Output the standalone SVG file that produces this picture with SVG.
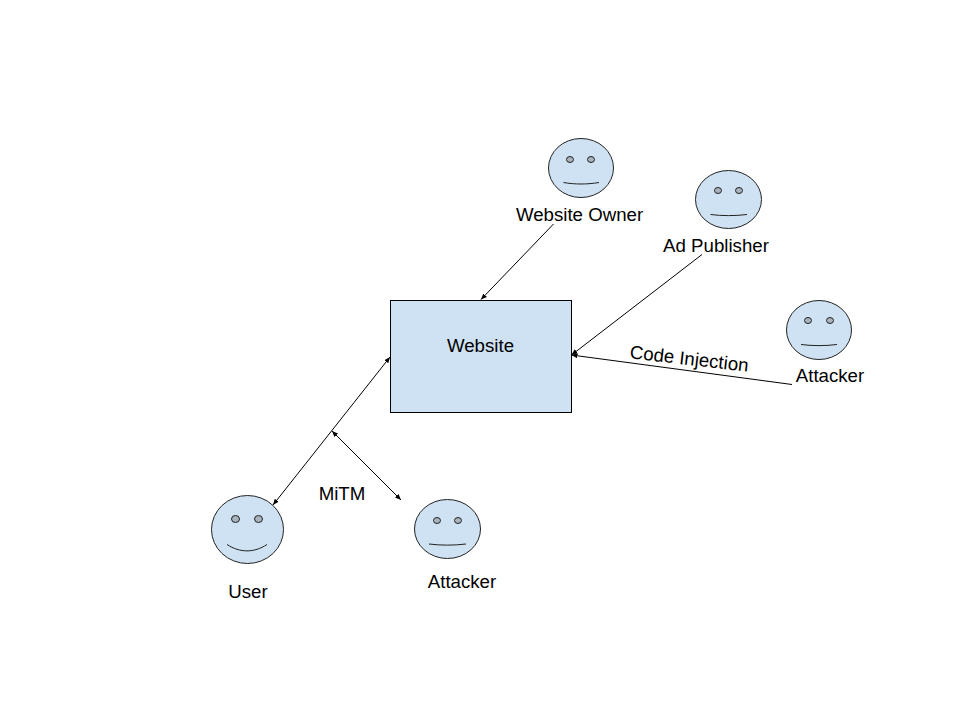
<svg xmlns="http://www.w3.org/2000/svg" width="960" height="720" viewBox="0 0 960 720">
<defs>
<style>
.b{fill:#cfe2f3;stroke:#000;stroke-width:1}
.f{fill:#cfe2f3;stroke:#222;stroke-width:1}
.e{fill:#a9b4be;stroke:#222;stroke-width:1}
.m{fill:none;stroke:#222;stroke-width:1}
.c{fill:none;stroke:#000;stroke-width:1}
text{font-family:"Liberation Sans",Arial,sans-serif;font-size:18.67px;fill:#000;text-anchor:middle}
</style>
<marker id="a" markerUnits="userSpaceOnUse" markerWidth="7" markerHeight="6" refX="6" refY="3" orient="auto-start-reverse" viewBox="0 0 7 6"><path d="M0 0.500L6 3L0 5.500z" fill="#000"/></marker>
</defs>
<rect width="960" height="720" fill="#fff"/>
<g id="connectors">
<line class="c" x1="553.500" y1="224" x2="481" y2="299.500" marker-end="url(#a)"/>
<line class="c" x1="702" y1="254.500" x2="571.500" y2="355" marker-end="url(#a)"/>
<line class="c" x1="792" y1="384.500" x2="571.500" y2="355" marker-end="url(#a)"/>
<line class="c" x1="390" y1="357" x2="273" y2="505" marker-start="url(#a)" marker-end="url(#a)"/>
<line class="c" x1="332" y1="431" x2="401" y2="500" marker-start="url(#a)" marker-end="url(#a)"/>
</g>
<g id="website"><rect class="b" x="390.500" y="300.500" width="181" height="112"/><text x="480.500" y="352">Website</text></g>
<g id="owner"><ellipse class="f" cx="581" cy="168" rx="32.500" ry="29.500"/><ellipse class="e" cx="570" cy="159.500" rx="3.500" ry="3"/><ellipse class="e" cx="591" cy="159.500" rx="3.500" ry="3"/><path class="m" d="M563.500 182.500C575 184.500 587 184.500 599 182.500"/><text x="579.500" y="221">Website Owner</text></g>
<g id="publisher"><ellipse class="f" cx="728.500" cy="199.500" rx="33" ry="29"/><ellipse class="e" cx="718" cy="190.500" rx="3.500" ry="3"/><ellipse class="e" cx="739" cy="190.500" rx="3.500" ry="3"/><path class="m" d="M710.500 214.500C722 216 735 216 747 214.500"/><text x="716" y="252">Ad Publisher</text></g>
<g id="attacker-right"><ellipse class="f" cx="819" cy="330" rx="32.500" ry="29.500"/><ellipse class="e" cx="808" cy="320.500" rx="3.500" ry="3"/><ellipse class="e" cx="830" cy="320.500" rx="3.500" ry="3"/><path class="m" d="M801 344.500C813 346 825 346 837 344.500"/><text x="830" y="382">Attacker</text></g>
<g id="user"><ellipse class="f" cx="247.500" cy="529.500" rx="36" ry="34"/><ellipse class="e" cx="235.500" cy="519" rx="4" ry="3.500"/><ellipse class="e" cx="258.500" cy="519" rx="4" ry="3.500"/><path class="m" d="M227 544.500C240 553 254 553 267 544.500"/><text x="248" y="598">User</text></g>
<g id="attacker-bottom"><ellipse class="f" cx="447.500" cy="529" rx="33" ry="29.500"/><ellipse class="e" cx="437" cy="520.500" rx="3.500" ry="3"/><ellipse class="e" cx="458" cy="520.500" rx="3.500" ry="3"/><path class="m" d="M429 544C441 545.500 454 545.500 466 544"/><text x="462" y="588">Attacker</text></g>
<g id="labels"><text x="342" y="500">MiTM</text><text transform="translate(688.500 365) rotate(6.500)">Code Injection</text></g>
</svg>
